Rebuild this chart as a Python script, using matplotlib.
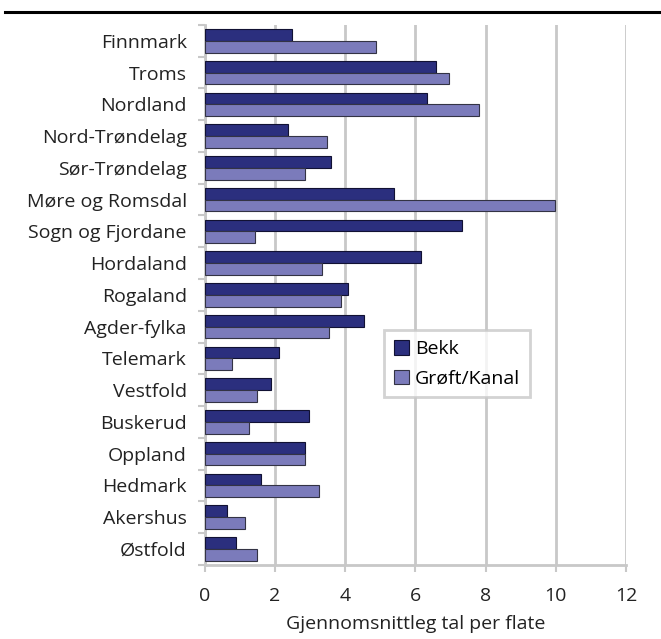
import numpy as np
import matplotlib.pyplot as plt
from matplotlib.lines import Line2D

plt.rcParams['font.family'] = ['Open Sans', 'DejaVu Sans']

# Data
fylke = ["Finnmark", "Troms", "Nordland", "Nord-Trøndelag", "Sør-Trøndelag",
         "Møre og Romsdal", "Sogn og Fjordane", "Hordaland", "Rogaland",
         "Agder-fylka", "Telemark", "Vestfold", "Buskerud", "Oppland",
         "Hedmark", "Akershus", "Østfold"]
bekk = [2.49, 6.60, 6.33, 2.38, 3.58, 5.40, 7.34, 6.17, 4.07,
        4.54, 2.10, 1.88, 2.96, 2.85, 1.61, 0.62, 0.90]
groft = [4.87, 6.97, 7.80, 3.48, 2.86, 9.97, 1.43, 3.34, 3.88,
         3.53, 0.76, 1.49, 1.27, 2.84, 3.24, 1.13, 1.49]
x_ticks = [0, 2, 4, 6, 8, 10, 12]

c_bekk = "#2B2F7E"
c_groft = "#7B7BBB"
grid_c = "#C8C8C8"
txt_c = "#222222"
fs = 14

fig = plt.figure(figsize=(6.61, 6.39), dpi=100)
ax = fig.add_axes([0.310, 0.116, 0.637, 0.845])

n = len(fylke)
y = np.arange(n)
h = 0.37
ax.barh(y - h / 2, bekk, height=h, color=c_bekk, edgecolor="#111133",
        linewidth=0.8, label="Bekk", zorder=3)
ax.barh(y + h / 2, groft, height=h, color=c_groft, edgecolor="#333344",
        linewidth=0.8, label="Grøft/Kanal", zorder=3)

ax.set_ylim(n - 0.5, -0.5)
ax.set_xlim(0, 12)
ax.set_xticks(x_ticks)
ax.set_xticklabels([str(t) for t in x_ticks], fontsize=fs, color=txt_c)

# category labels centred, tick marks on boundaries
ax.set_yticks(y)
ax.set_yticklabels(fylke, fontsize=fs, color=txt_c)
ax.set_yticks(np.arange(n + 1) - 0.5, minor=True)
ax.tick_params(axis="y", which="major", length=0, pad=13)
ax.tick_params(axis="y", which="minor", length=5, width=1.5, color=grid_c)
ax.tick_params(axis="x", length=5, width=1.5, color=grid_c, pad=11)

ax.grid(axis="x", color=grid_c, linewidth=2, zorder=0)
for s in ["top", "right"]:
    ax.spines[s].set_visible(False)
for s in ["left", "bottom"]:
    ax.spines[s].set_color(grid_c)
    ax.spines[s].set_linewidth(2)

ax.set_xlabel("Gjennomsnittleg tal per flate", fontsize=fs, color=txt_c,
              labelpad=7)

leg = ax.legend(loc="upper left", bbox_to_anchor=(0.425, 0.435), fontsize=fs,
                frameon=True, fancybox=False, borderpad=0.5, handlelength=0.8,
                handleheight=0.8, handletextpad=0.3, labelspacing=0.6,
                borderaxespad=0)
leg.get_frame().set_edgecolor(grid_c)
leg.get_frame().set_linewidth(2)

# top rule of the page
fig.add_artist(Line2D([0.008, 1.0], [0.981, 0.981], color="black", linewidth=2.2,
                      transform=fig.transFigure))

fig.savefig("out.png", dpi=100)
